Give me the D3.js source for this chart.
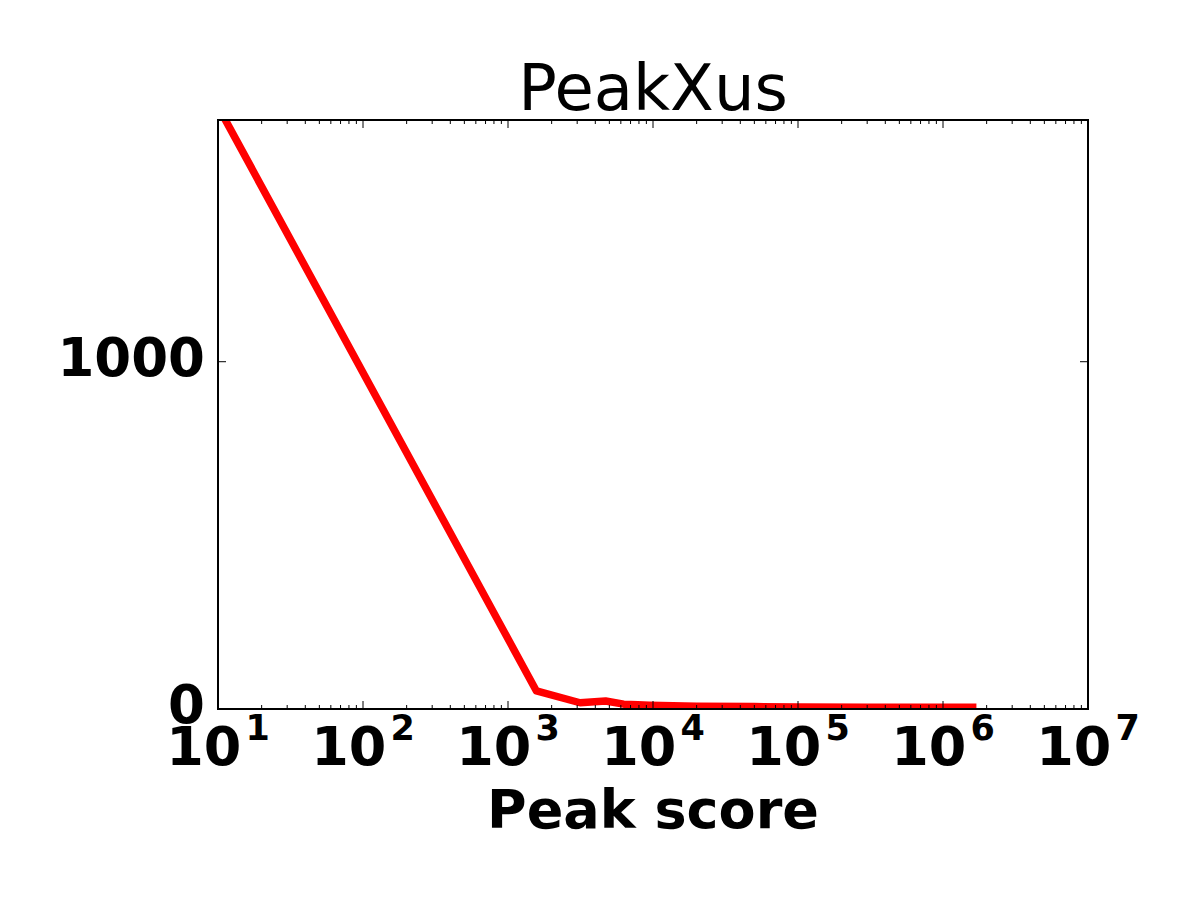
<!DOCTYPE html>
<html>
<head>
<meta charset="utf-8">
<script src="https://cdn.jsdelivr.net/npm/d3@7"></script>
<style>
    body { margin: 0; background: #fff; }
    text { font-family: 'DejaVu Sans', sans-serif; }
</style>
</head>
<body>
<svg id="chart"></svg>
<script>
// peak score (x) vs number of peaks (y)
const scores = [10, 1570, 3140, 4710, 6280, 7850, 9420, 20000, 50000, 100000, 300000, 1700000];
const counts = [1735, 52, 18, 23, 14, 12, 11, 8, 7, 6, 5, 5];
const xTickExps = [1, 2, 3, 4, 5, 6, 7];
const yTicks = [0, 1000];
const title = 'PeakXus';
const xLabel = 'Peak score';

class LogLineChart {
    constructor (config, data) {
        this.config = {
            parent: config.parent,
            width: config.width || 1200,
            height: config.height || 900,
            margin: config.margin || {top:120, right:112, bottom:191, left:218},
            title: config.title || '',
            xlabel: config.xlabel || ''
        };
        this.data = data;
        this.init();
    }

    init() {
        let self = this;

        self.svg = d3.select(self.config.parent)
            .attr('width', self.config.width)
            .attr('height', self.config.height);

        self.inner_width = self.config.width - self.config.margin.left - self.config.margin.right;
        self.inner_height = self.config.height - self.config.margin.top - self.config.margin.bottom;

        self.chart = self.svg.append('g')
            .attr('transform', `translate(${self.config.margin.left}, ${self.config.margin.top})`);

        self.xscale = d3.scaleLog()
            .domain([10, 1e7])
            .range([0, self.inner_width]);

        self.yscale = d3.scaleLinear()
            .domain([0, 1696])
            .range([self.inner_height, 0]);

        self.svg.append('defs').append('clipPath')
            .attr('id', 'plot-clip')
            .append('rect')
            .attr('width', self.inner_width)
            .attr('height', self.inner_height);

        self.line = d3.line()
            .x(d => self.xscale(d.x))
            .y(d => self.yscale(d.y));
    }

    render() {
        let self = this;
        const w = self.inner_width, h = self.inner_height;

        self.chart.append('path')
            .datum(self.data)
            .attr('clip-path', 'url(#plot-clip)')
            .attr('d', self.line)
            .attr('fill', 'none')
            .attr('stroke', '#ff0000')
            .attr('stroke-width', 7.5)
            .attr('stroke-linejoin', 'round');

        // log ticks, inward, top and bottom
        const ticks = self.xscale.ticks();
        const isMajor = t => Math.abs(Math.log10(t) - Math.round(Math.log10(t))) < 1e-9;
        const tickG = self.chart.append('g');
        ticks.forEach(t => {
            const len = isMajor(t) ? 8 : 4;
            const x = self.xscale(t);
            tickG.append('line').attr('x1', x).attr('x2', x).attr('y1', h).attr('y2', h - len);
            tickG.append('line').attr('x1', x).attr('x2', x).attr('y1', 0).attr('y2', len);
        });
        yTicks.forEach(t => {
            const y = self.yscale(t);
            tickG.append('line').attr('x1', 0).attr('x2', 8).attr('y1', y).attr('y2', y);
            tickG.append('line').attr('x1', w).attr('x2', w - 8).attr('y1', y).attr('y2', y);
        });
        tickG.selectAll('line').attr('stroke', '#000').attr('stroke-width', 1);

        self.chart.append('rect')
            .attr('width', w)
            .attr('height', h)
            .attr('fill', 'none')
            .attr('stroke', '#000')
            .attr('stroke-width', 2);

        // x tick labels 10^n
        xTickExps.forEach(e => {
            const t = self.chart.append('text')
                .attr('x', self.xscale(Math.pow(10, e)))
                .attr('y', h + 56)
                .attr('text-anchor', 'middle')
                .style('font-weight', 'bold')
                .style('font-size', '54px');
            t.append('tspan').text('10');
            t.append('tspan')
                .attr('dx', 4)
                .attr('dy', -25)
                .style('font-size', '35px')
                .text(e);
        });

        yTicks.forEach(v => {
            self.chart.append('text')
                .attr('x', -13)
                .attr('y', self.yscale(v) + 14)
                .attr('text-anchor', 'end')
                .style('font-weight', 'bold')
                .style('font-size', '53px')
                .text(v);
        });

        self.svg.append('text')
            .attr('x', self.config.margin.left + w / 2)
            .attr('y', 828)
            .attr('text-anchor', 'middle')
            .style('font-weight', 'bold')
            .style('font-size', '54px')
            .text(self.config.xlabel);

        self.svg.append('text')
            .attr('x', self.config.margin.left + w / 2)
            .attr('y', 110)
            .attr('text-anchor', 'middle')
            .style('font-size', '64px')
            .text(self.config.title);
    }
}

const data = scores.map((s, i) => ({x: s, y: counts[i]}));
const chart = new LogLineChart({parent: '#chart', title: title, xlabel: xLabel}, data);
chart.render();
</script>
</body>
</html>
